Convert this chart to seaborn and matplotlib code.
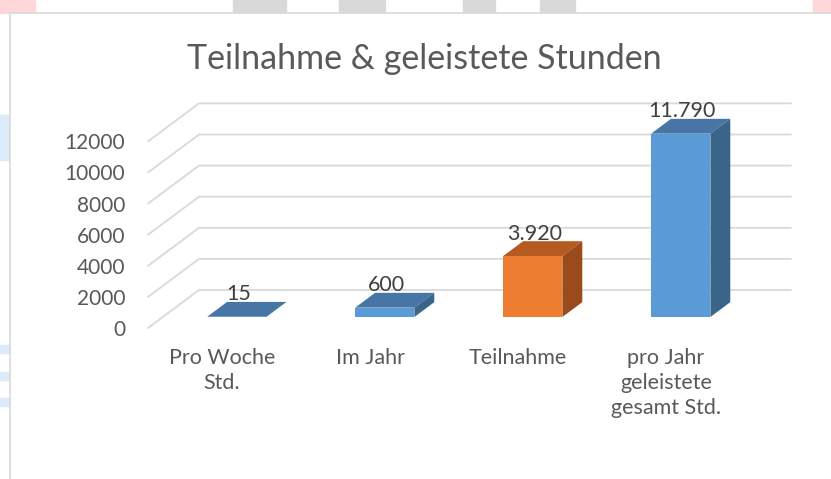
import matplotlib
matplotlib.use('Agg')
import matplotlib.pyplot as plt
from matplotlib.patches import Polygon, Rectangle
import seaborn as sns

categories = ['Pro Woche\nStd.', 'Im Jahr', 'Teilnahme', 'pro Jahr\ngeleistete\ngesamt Std.']
values = [15, 600, 3920, 11790]
value_labels = ['15', '600', '3.920', '11.790']
yticks = [0, 2000, 4000, 6000, 8000, 10000, 12000]

front_colors = ['#5B9BD5', '#5B9BD5', '#ED7D31', '#5B9BD5']
top_colors = ['#4675A6', '#4675A6', '#B55A20', '#4675A6']
side_colors = ['#3B6489', '#3B6489', '#9A4B1B', '#3B6489']

W, H = 831, 479
sns.set_theme(style='white')
plt.rcParams['font.family'] = ['Lato', 'DejaVu Sans']

fig = plt.figure(figsize=(W / 100, H / 100), dpi=100)
fig.patch.set_facecolor('white')


def fig_rect(x0, y0, x1, y1, color):
    # rectangle given in pixels from the top-left corner
    fig.patches.append(Rectangle((x0 / W, 1 - y1 / H), (x1 - x0) / W, (y1 - y0) / H,
                                 transform=fig.transFigure, color=color, zorder=-2))


# faint watermark bits outside the chart frame
for x0, x1 in [(233, 286), (339, 385), (463, 495), (540, 575)]:
    fig_rect(x0, 0, x1, 13, '#d9d9d9')
for x0, x1 in [(0, 35), (813, 831)]:
    fig_rect(x0, 0, x1, 13, '#ffd6d9')
fig_rect(0, 115, 9, 160, '#dcebfb')
for y0 in [345, 372, 398]:
    fig_rect(0, y0, 9, y0 + 8, '#dcebfb')

# chart frame
fig.patches.append(Rectangle((10 / W, -0.05), 1.0, 1 - 13 / H + 0.05, transform=fig.transFigure,
                             facecolor='white', edgecolor='#d9d9d9', linewidth=1.2, zorder=-1))

# axes placed so that category spacing / value scale match the reference
left_px, right_px, top_px, bottom_px = 132, 810, 90, 340
ax = fig.add_axes([left_px / W, 1 - bottom_px / H, (right_px - left_px) / W, (bottom_px - top_px) / H])
ax.patch.set_alpha(0)
ax.set_zorder(2)

sns.barplot(x=categories, y=values, hue=categories, palette=front_colors, legend=False,
            width=0.4, saturation=1, ax=ax, zorder=3)

x_scale = 148.0      # px per category
y_scale = 0.01555    # px per value unit
ax.set_xlim((left_px - 222) / x_scale, (right_px - 222) / x_scale)
ax.set_ylim((328 - bottom_px) / y_scale, (328 - top_px) / y_scale)

# depth direction of the pseudo 3D box
dx = 51 / x_scale
dy = 38 / y_scale
d0, d1 = 0.29, 0.68

# floor / side / back wall gridlines
for v in yticks:
    ax.plot([-0.5, -0.5 + dx, 3.5 + dx], [v, v + dy, v + dy], color='#d9d9d9',
            linewidth=1.3, zorder=1, clip_on=False)

for i, p in enumerate(ax.patches):
    x0 = p.get_x() + d0 * dx
    base = d0 * dy
    p.set_x(x0)
    p.set_y(base)
    p.set_linewidth(0)
    x1 = x0 + p.get_width()
    top = base + values[i]
    ddx, ddy = (d1 - d0) * dx, (d1 - d0) * dy
    ax.add_patch(Polygon([(x0, top), (x1, top), (x1 + ddx, top + ddy), (x0 + ddx, top + ddy)],
                         closed=True, facecolor=top_colors[i], edgecolor='none', zorder=4))
    ax.add_patch(Polygon([(x1, base), (x1 + ddx, base + ddy), (x1 + ddx, top + ddy), (x1, top)],
                         closed=True, facecolor=side_colors[i], edgecolor='none', zorder=4))
    ax.text((x0 + x1) / 2 + 0.01, top + ddy + 100, value_labels[i], ha='center', va='baseline',
            fontsize=15.5, color='#404040', zorder=5)

ax.set_yticks(yticks)
ax.set_yticklabels([str(t) for t in yticks])
ax.set_xticks(range(len(categories)))
ax.set_xticklabels(categories, linespacing=1.3)
ax.tick_params(axis='y', length=0, pad=5, labelsize=15, labelcolor='#595959')
ax.tick_params(axis='x', length=0, pad=6, labelsize=15.5, labelcolor='#595959')
for s in ax.spines.values():
    s.set_visible(False)
ax.set_xlabel('')
ax.set_ylabel('')

fig.text(424 / W, 1 - 59 / H, 'Teilnahme & geleistete Stunden', ha='center', va='center',
         fontsize=24.5, color='#595959')

fig.savefig('out.png', dpi=100)
